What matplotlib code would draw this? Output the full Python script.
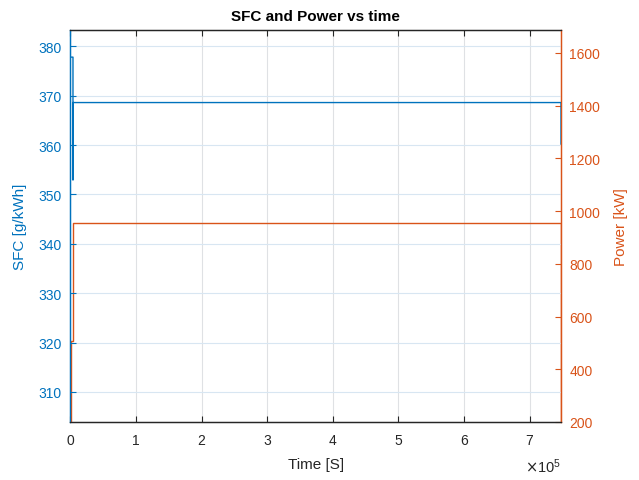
import matplotlib
matplotlib.use("Agg")
import matplotlib.pyplot as plt
from matplotlib.ticker import FuncFormatter, FixedLocator

plt.rcParams['font.family'] = ['Liberation Sans', 'DejaVu Sans']

# Time [s] and specific fuel consumption [g/kWh]
time_sfc = [1800, 4100, 4100, 4300, 748000, 748000]
sfc = [377.8, 377.8, 352.9, 368.6, 368.6, 360.2]

# Time [s] and engine power [kW]
time_power = [0, 1100, 1100, 3700, 3700, 748000, 748000]
power = [200, 200, 508, 508, 954, 954, 200]

sfc_ticks = [310, 320, 330, 340, 350, 360, 370, 380]
power_ticks = [200, 400, 600, 800, 1000, 1200, 1400, 1600]
time_ticks = [0, 1e5, 2e5, 3e5, 4e5, 5e5, 6e5, 7e5]
time_scale = 1e5

blue = '#0072BD'
orange = '#D95319'
dark = '#262626'

fig = plt.figure(figsize=(6.39, 4.81), dpi=100)
ax = fig.add_axes([0.110, 0.1206, 0.768, 0.815])
ax2 = ax.twinx()

ax.set_zorder(ax2.get_zorder() + 1)
ax.patch.set_visible(False)

ax.plot(time_sfc, sfc, color=blue, lw=1.0, zorder=3)
ax2.plot(time_power, power, color=orange, lw=1.0, zorder=3)

ax.set_xlim(0, 7.48e5)
ax.set_ylim(303.9, 383.3)
ax2.set_ylim(200, 1687)

ax.xaxis.set_major_locator(FixedLocator(time_ticks))
ax.yaxis.set_major_locator(FixedLocator(sfc_ticks))
ax2.yaxis.set_major_locator(FixedLocator(power_ticks))
ax.xaxis.set_major_formatter(FuncFormatter(lambda v, pos: f'{v / time_scale:g}'))

# exponent of the time axis
ax.text(1.0, -0.088, r'$\times\mathregular{10^{5}}$', transform=ax.transAxes,
        ha='right', va='top', fontsize=10.5, color=dark)

# grid lines
for y in sfc_ticks:
    ax.axhline(y, color='#d8e6f2', lw=0.8, zorder=0)
for x in time_ticks:
    ax2.axvline(x, color='#dfe1e4', lw=0.8, zorder=0)

ax.tick_params(axis='x', direction='in', top=True, colors=dark, labelsize=10,
               length=4, width=0.8, pad=8)
ax.tick_params(axis='y', direction='in', colors=blue, labelsize=10,
               length=4, width=0.8, pad=6)
ax2.tick_params(axis='y', direction='in', colors=orange, labelsize=10,
                length=4, width=0.8, pad=6)

for a in (ax, ax2):
    a.spines['top'].set_color(dark)
    a.spines['bottom'].set_color(dark)
    a.spines['left'].set_color(blue)
    a.spines['right'].set_color(orange)
    for s in a.spines.values():
        s.set_linewidth(0.9)

ax.set_xlabel('Time [S]', color=dark, fontsize=11, labelpad=7)
ax.set_ylabel('SFC [g/kWh]', color=blue, fontsize=11, labelpad=8)
ax2.set_ylabel('Power [kW]', color=orange, fontsize=11, labelpad=10)
ax.set_title('SFC and Power vs time', fontsize=11, fontweight='bold',
             color='#000000', pad=7)

fig.savefig('out.png', dpi=100)
